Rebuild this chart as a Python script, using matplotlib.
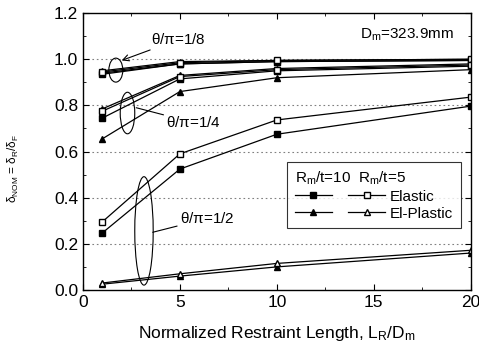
import matplotlib
matplotlib.use('agg')
import matplotlib.pyplot as plt
from matplotlib.patches import Ellipse
from matplotlib.lines import Line2D
from matplotlib.ticker import MultipleLocator

plt.rcParams['font.family'] = ['Liberation Sans', 'DejaVu Sans']
plt.rcParams['mathtext.fontset'] = 'custom'
plt.rcParams['mathtext.rm'] = 'Liberation Sans'
plt.rcParams['mathtext.it'] = 'Liberation Sans:italic'
plt.rcParams['mathtext.default'] = 'regular'

L = [1, 5, 10, 20]

# theta/pi = 1/8
e8_r10 = [0.935, 0.98, 0.99, 0.995]
p8_r10 = [0.94, 0.98, 0.99, 0.995]
e8_r5 = [0.945, 0.985, 0.995, 1.0]
p8_r5 = [0.95, 0.99, 0.995, 1.0]
# theta/pi = 1/4
e4_r10 = [0.745, 0.915, 0.95, 0.97]
p4_r10 = [0.655, 0.86, 0.92, 0.955]
e4_r5 = [0.775, 0.925, 0.955, 0.975]
p4_r5 = [0.785, 0.93, 0.96, 0.98]
# theta/pi = 1/2
e2_r10 = [0.247, 0.524, 0.675, 0.797]
p2_r10 = [0.025, 0.06, 0.10, 0.16]
e2_r5 = [0.295, 0.59, 0.737, 0.836]
p2_r5 = [0.03, 0.07, 0.115, 0.172]

fig = plt.figure(figsize=(4.79, 3.46), dpi=100)
ax = fig.add_axes([0.173, 0.162, 0.810, 0.800])

style = dict(color='k', lw=0.9, ms=5, mec='k')
for e10, p10, e5, p5 in [(e8_r10, p8_r10, e8_r5, p8_r5),
                         (e4_r10, p4_r10, e4_r5, p4_r5),
                         (e2_r10, p2_r10, e2_r5, p2_r5)]:
    ax.plot(L, p10, marker='^', mfc='k', **style)
    ax.plot(L, e10, marker='s', mfc='k', **style)
    ax.plot(L, p5, marker='^', mfc='w', **style)
    ax.plot(L, e5, marker='s', mfc='w', **style)

for yv in [0.2, 0.4, 0.6, 0.8, 1.0]:
    ax.axhline(yv, color='gray', ls=(0, (1.5, 2.5)), lw=0.8, zorder=0)

ax.add_patch(Ellipse((1.7, 0.953), 0.72, 0.104, fill=False, lw=0.8, color='k'))
ax.add_patch(Ellipse((2.3, 0.767), 0.75, 0.18, fill=False, lw=0.8, color='k'))
ax.add_patch(Ellipse((3.15, 0.256), 0.95, 0.47, fill=False, lw=0.8, color='k'))

ax.annotate(r'$\theta/\pi$=1/8', xy=(2.0, 0.995), xytext=(3.5, 1.085),
            fontsize=11, va='center',
            arrowprops=dict(arrowstyle='->', color='k', lw=0.8, shrinkA=0, shrinkB=0))
ax.annotate(r'$\theta/\pi$=1/4', xy=(2.75, 0.79), xytext=(4.3, 0.725),
            fontsize=11, va='center',
            arrowprops=dict(arrowstyle='-', color='k', lw=0.8, shrinkA=0, shrinkB=0))
ax.annotate(r'$\theta/\pi$=1/2', xy=(3.6, 0.25), xytext=(5.0, 0.31),
            fontsize=11, va='center',
            arrowprops=dict(arrowstyle='-', color='k', lw=0.8, shrinkA=0, shrinkB=0))
ax.text(14.3, 1.105, r'D$_m$=323.9mm', fontsize=11, va='center')

h = [Line2D([], [], marker='s', mfc='k', **style),
     Line2D([], [], marker='^', mfc='k', **style),
     Line2D([], [], marker='s', mfc='w', **style),
     Line2D([], [], marker='^', mfc='w', **style)]
leg = ax.legend(h, ['', '', 'Elastic', 'El-Plastic'], ncol=2,
                title=r'R$_m$/t=10  R$_m$/t=5', loc='lower right',
                bbox_to_anchor=(0.993, 0.195), frameon=True, fancybox=False,
                edgecolor='k', fontsize=11, title_fontsize=11,
                handlelength=2.4, columnspacing=0.8, handletextpad=0.3,
                borderpad=0.5, labelspacing=0.2)
leg.get_frame().set_linewidth(0.8)
leg._legend_box.align = 'left'

ax.set_xlim(0, 20)
ax.set_ylim(0, 1.2)
ax.xaxis.set_major_locator(MultipleLocator(5))
ax.xaxis.set_minor_locator(MultipleLocator(2.5))
ax.yaxis.set_major_locator(MultipleLocator(0.2))
ax.yaxis.set_minor_locator(MultipleLocator(0.1))
ax.yaxis.set_major_formatter(matplotlib.ticker.FormatStrFormatter('%.1f'))
ax.tick_params(which='both', direction='in', top=True, right=True)
ax.tick_params(which='major', length=4, labelsize=12.5)
ax.tick_params(which='minor', length=2)
for s in ax.spines.values():
    s.set_linewidth(1.0)

ax.set_xlabel(r'Normalized Restraint Length, L$_R$/D$_m$', fontsize=12.5, labelpad=10)
ax.set_ylabel(r'$\delta_{NOM}$ = $\delta_R/\delta_F$', fontsize=8.5)
ax.yaxis.set_label_coords(-0.16, 0.44)

fig.savefig('out.png', dpi=100)
